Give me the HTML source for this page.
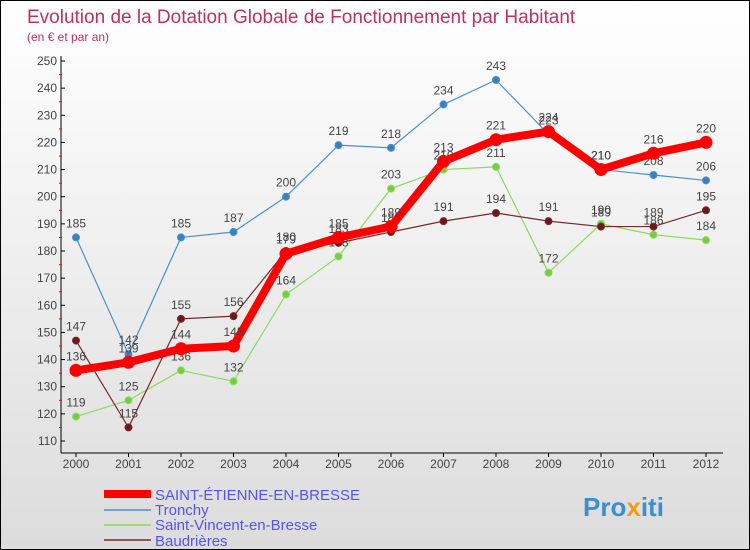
<!DOCTYPE html>
<html><head><meta charset="utf-8"><style>
body{margin:0}
#c{width:748px;height:548px;border:1px solid #000;background:linear-gradient(#fff,#dcdcdc);position:relative;font-family:"Liberation Sans",sans-serif}
</style></head><body>
<div id="c">
<svg id="s" width="748" height="548" style="position:absolute;left:0;top:0">
<text x="26" y="22" font-size="19" fill="#c0305f">Evolution de la Dotation Globale de Fonctionnement par Habitant</text>
<text x="26" y="40" font-size="12" fill="#c0305f">(en € et par an)</text>
<g id="ax"></g><g id="ln"></g>
<g font-size="15" fill="#4466ff">
<line x1="103" y1="493" x2="150" y2="493" stroke="#f00" stroke-width="8"/>
<text x="154" y="499" fill="#5555ee">SAINT-ÉTIENNE-EN-BRESSE</text>
<line x1="103" y1="509" x2="150" y2="509" stroke="#4a90d0" stroke-width="1.5"/>
<text x="154" y="514" fill="#5555ee">Tronchy</text>
<line x1="103" y1="524" x2="150" y2="524" stroke="#88dd55" stroke-width="1.5"/>
<text x="154" y="529" fill="#5555ee">Saint-Vincent-en-Bresse</text>
<line x1="103" y1="539" x2="150" y2="539" stroke="#7a2a2a" stroke-width="1.5"/>
<text x="154" y="545" fill="#5555ee">Baudrières</text>
</g>
<text x="582" y="515" font-size="26" font-weight="bold" fill="#3a8fd0">Pro<tspan fill="#f39c12">x</tspan>iti</text>
</svg></div>
<script>
const years=[2000,2001,2002,2003,2004,2005,2006,2007,2008,2009,2010,2011,2012];
const yTicks=[110,120,130,140,150,160,170,180,190,200,210,220,230,240,250];
const seb=[136,139,144,145,179,185,189,213,221,224,210,216,220];
const tronchy=[185,142,185,187,200,219,218,234,243,223,210,208,206];
const svb=[119,125,136,132,164,178,203,210,211,172,190,186,184];
const baud=[147,115,155,156,180,183,187,191,194,191,189,189,195];
const NS="http://www.w3.org/2000/svg";
const X=i=>75+i*52.5, Y=v=>60+(250-v)*380/140;
function mk(p,t,a){const e=document.createElementNS(NS,t);for(const k in a)e.setAttribute(k,a[k]);p.appendChild(e);return e;}
const ax=document.getElementById('ax'),ln=document.getElementById('ln');
const yl=mk(ax,'line',{x1:60,y1:55,x2:60,y2:452,stroke:'#000'});


const xl=mk(ax,'line',{x1:60,y1:452,x2:722,y2:452,stroke:'#000'});


yTicks.forEach(v=>{const y=Y(v);
 mk(ax,'line',{x1:60,y1:y,x2:64,y2:y,stroke:'#000'});
 if(v<250)mk(ax,'line',{x1:58,y1:y-13.5,x2:61,y2:y-13.5,stroke:'#f00'});
 const t=mk(ax,'text',{x:56,y:y+4,'font-size':12,'text-anchor':'end',fill:'#444'});t.textContent=v;
 
 });
years.forEach((yr,i)=>{const x=X(i);
 mk(ax,'line',{x1:x,y1:452,x2:x,y2:456,stroke:'#000'});
 const t=mk(ax,'text',{x:x,y:467,'font-size':12,'text-anchor':'middle',fill:'#444'});t.textContent=yr;
 
 });
function series(d,col,w,r,name,dot){
 const g=mk(ln,'g',{});
 
 
 mk(g,'polyline',{points:d.map((v,i)=>X(i)+','+Y(v)).join(' '),fill:'none',stroke:col,'stroke-width':w,'stroke-linejoin':'round'});
 d.forEach((v,i)=>{const c=mk(g,'circle',{cx:X(i),cy:Y(v),r:r,fill:dot||col,stroke:col,'stroke-width':1});
  
  
  const t=mk(g,'text',{x:X(i),y:Y(v)-10,'font-size':12,'text-anchor':'middle',fill:'#444'});t.textContent=v;});
}
series(svb,'#88dd55',1.2,3.5,'saint-vincent','#77cc44');
series(baud,'#7a2a2a',1.2,3.5,'baudrieres','#6a1a1a');
series(tronchy,'#4a90d0',1.2,3.5,'tronchy','#3a80c0');
series(seb,'#f00',8,6,'saint-etienne');
</script></body></html>
